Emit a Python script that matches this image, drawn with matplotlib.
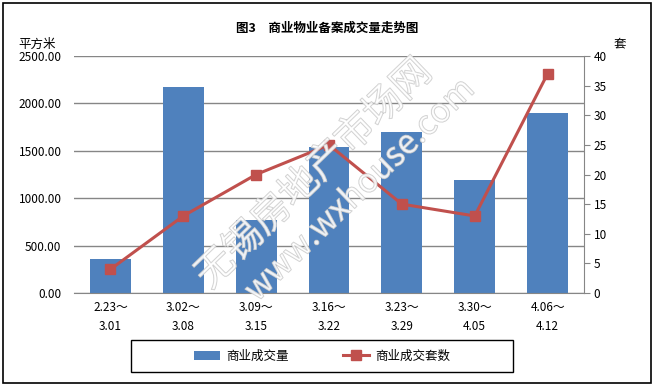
import matplotlib
matplotlib.use("Agg")
import matplotlib.pyplot as plt
import matplotlib.patheffects as pe
import numpy as np

plt.rcParams['font.family'] = ['Noto Sans CJK SC', 'DejaVu Sans']

categories = ["2.23～\n3.01", "3.02～\n3.08", "3.09～\n3.15", "3.16～\n3.22",
              "3.23～\n3.29", "3.30～\n4.05", "4.06～\n4.12"]
area = [360, 2170, 770, 1540, 1700, 1190, 1900]
units = [4, 13, 20, 25, 15, 13, 37]
left_ticks = [0, 500, 1000, 1500, 2000, 2500]
right_ticks = [0, 5, 10, 15, 20, 25, 30, 35, 40]

W, H = 654, 386
fig = plt.figure(figsize=(W/100, H/100), dpi=100)
ax = fig.add_axes([74/W, 1-293/H, (584-74)/W, (293-56)/H])
ax2 = ax.twinx()

x = np.arange(len(categories))
ax.bar(x, area, width=0.56, color='#4F81BD', zorder=2, label='商业成交量')
ax.set_xlim(-0.5, len(categories)-0.5)
ax.set_ylim(0, 2500)
ax.set_yticks(left_ticks)
ax.set_yticklabels([f"{v:.2f}" for v in left_ticks], fontsize=8.5)
ax.yaxis.grid(True, color='#868686', lw=1, zorder=0)
ax.set_axisbelow(True)
ax.tick_params(axis='y', length=0, pad=9)
ax.set_xticks(x)
ax.set_xticklabels(categories, fontsize=8.5, linespacing=1.6)
ax.tick_params(axis='x', length=0, pad=6)
for s in ['top', 'left', 'right']:
    ax.spines[s].set_visible(False)
ax.spines['bottom'].set_color('#868686')

ax2.plot(x, units, color='#C0504D', lw=2.2, marker='s', markersize=7,
         markerfacecolor='#C0504D', markeredgecolor='#C0504D', zorder=3, label='商业成交套数')
ax2.set_ylim(0, 40)
ax2.set_yticks(right_ticks)
ax2.set_yticklabels([str(v) for v in right_ticks], fontsize=8.5)
ax2.tick_params(axis='y', length=4, color='#868686', direction='out', pad=3)
for s in ['top', 'left', 'bottom']:
    ax2.spines[s].set_visible(False)
ax2.spines['right'].set_color('#868686')

fig.text(327/W, 1-28/H, "图3　商业物业备案成交量走势图", ha='center', va='center',
         fontsize=9, fontweight='bold')
fig.text(18/W, 1-44/H, "平方米", ha='left', va='center', fontsize=9)
fig.text(620/W, 1-44/H, "套", ha='center', va='center', fontsize=9)

# watermark
wm = dict(color='white', alpha=0.4, rotation=44, ha='center', va='center',
          rotation_mode='anchor', fontweight='light',
          path_effects=[pe.Stroke(linewidth=0.8, foreground='#c4c4c4', alpha=0.85), pe.Normal()],
          zorder=5)
fig.text(314/W, 1-174/H, "无锡房地产市场网", fontsize=28, **wm)
fig.text(360/W, 1-190/H, "www.wxhouse.com", fontsize=24, **wm)

h1, l1 = ax.get_legend_handles_labels()
h2, l2 = ax2.get_legend_handles_labels()
leg = fig.legend(h1+h2, l1+l2, loc='center', bbox_to_anchor=(322/W, 1-356/H),
                 ncol=2, fontsize=9, frameon=False,
                 columnspacing=4.3, handlelength=2.1, handletextpad=0.5)

fig.patches.append(plt.Rectangle((131/W, 1-372/H), (513-131)/W, 32/H, transform=fig.transFigure,
                                 fill=False, edgecolor='black', lw=1.0))
fig.patches.append(plt.Rectangle((3/W, 3/H), 1-6/W, 1-6/H, transform=fig.transFigure,
                                 fill=False, edgecolor='black', lw=1.2))
fig.savefig("out.png", dpi=100)
